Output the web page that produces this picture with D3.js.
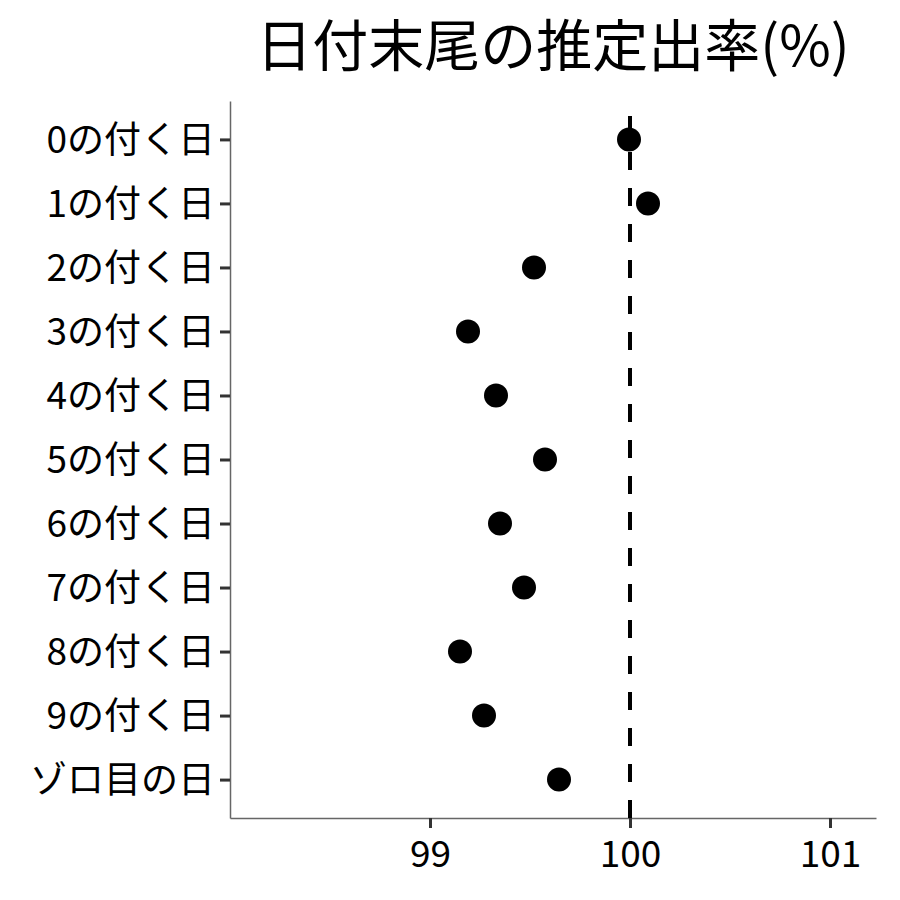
<!DOCTYPE html>
<html>
<head>
<meta charset="utf-8">
<script src="https://cdn.jsdelivr.net/npm/d3@7"></script>
<style>
  body { margin: 0; background: #fff; }
  text { font-family: "Noto Sans CJK JP", "Noto Sans", sans-serif; }
</style>
</head>
<body>
<div id="chart"></div>
<script>
// データ
const categories = ["0の付く日", "1の付く日", "2の付く日", "3の付く日", "4の付く日",
  "5の付く日", "6の付く日", "7の付く日", "8の付く日", "9の付く日", "ゾロ目の日"];
const rates = [99.995, 100.09, 99.52, 99.19, 99.33, 99.575, 99.35, 99.47, 99.15, 99.27, 99.645];
const xTicks = [99, 100, 101];
const refLine = 100;
const title = "日付末尾の推定出率(%)";

const width = 900, height = 900;
const margin = { top: 101, right: 24, bottom: 82, left: 230 };

const svg = d3.select("#chart").append("svg")
  .attr("width", width)
  .attr("height", height);

const x = d3.scaleLinear()
  .domain([98.0, 101.23])
  .range([margin.left, width - margin.right]);

const y = d3.scalePoint()
  .domain(categories)
  .range([margin.top, height - margin.bottom])
  .padding(0.6);

// 軸
const xAxis = svg.append("g")
  .attr("transform", `translate(0,${height - margin.bottom})`)
  .call(d3.axisBottom(x).tickValues(xTicks).tickSizeInner(10).tickSizeOuter(0)
    .tickPadding(8).tickFormat(d3.format("d")));

const yAxis = svg.append("g")
  .attr("transform", `translate(${margin.left},0)`)
  .call(d3.axisLeft(y).tickSizeInner(10).tickSizeOuter(0).tickPadding(5));

[xAxis, yAxis].forEach(g => {
  g.select(".domain").attr("stroke", "#666").attr("stroke-width", 1.5);
  g.selectAll(".tick line").attr("stroke", "#333").attr("stroke-width", 3);
  g.selectAll(".tick text")
    .attr("fill", "#000")
    .style("font-size", "37px")
    .style("font-family", "'Noto Sans CJK JP', sans-serif");
});
yAxis.selectAll(".tick text").attr("dy", "0.35em");
xAxis.selectAll(".tick text").attr("dy", "0.85em");

// 基準線（下から描く）
svg.append("path")
  .attr("d", d3.line()([[x(refLine), height - margin.bottom], [x(refLine), margin.top]]))
  .attr("stroke", "#000")
  .attr("stroke-width", 4)
  .attr("stroke-dasharray", "18,18")
  .attr("fill", "none");

// 点
svg.append("g")
  .selectAll("circle")
  .data(rates)
  .join("circle")
  .attr("cx", d => x(d))
  .attr("cy", (d, i) => y(categories[i]))
  .attr("r", 12)
  .attr("fill", "#000");

// タイトル
svg.append("text")
  .attr("x", (margin.left + width - margin.right) / 2)
  .attr("y", 66)
  .attr("text-anchor", "middle")
  .style("font-size", "56px")
  .text(title);
</script>
</body>
</html>
